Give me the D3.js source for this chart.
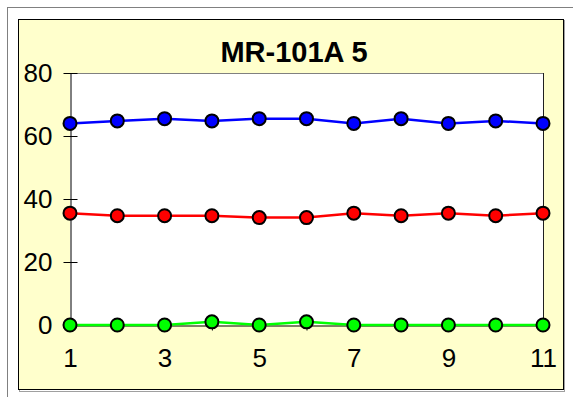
<!DOCTYPE html>
<html>
<head>
<meta charset="utf-8">
<script src="https://cdn.jsdelivr.net/npm/d3@7"></script>
<style>
  html, body { margin: 0; padding: 0; background: #fff; }
  svg { display: block; font-family: "Liberation Sans", Arial, sans-serif; }
</style>
</head>
<body>
<svg id="chart" width="573" height="397"></svg>
<script>
// Sample numbers along the x axis
const categories = [1, 2, 3, 4, 5, 6, 7, 8, 9, 10, 11];
// Three measured series
const blueValues  = [64, 64.8, 65.5, 64.8, 65.5, 65.5, 64, 65.5, 64, 64.8, 64];
const redValues   = [35.5, 34.7, 34.7, 34.7, 34.1, 34.1, 35.5, 34.7, 35.5, 34.7, 35.5];
const greenValues = [0, 0, 0, 1, 0, 1, 0, 0, 0, 0, 0];
const yTicks = [0, 20, 40, 60, 80];
const xTickLabels = [1, 3, 5, 7, 9, 11];
const title = "MR-101A 5";

const series = [
  { values: greenValues, color: "#00ff00" },
  { values: redValues,   color: "#ff0000" },
  { values: blueValues,  color: "#0000ff" }
];

const svg = d3.select("#chart");

// outer frame
svg.append("rect")
  .attr("x", 7.5).attr("y", 7.5).attr("width", 600).attr("height", 420)
  .attr("fill", "#fff").attr("stroke", "#808080").attr("stroke-width", 1);

// chart area with shadow
svg.append("rect")
  .attr("x", 19.5).attr("y", 20.5).attr("width", 545).attr("height", 371)
  .attr("fill", "none").attr("stroke", "#a0a0a0").attr("stroke-width", 1);
svg.append("rect")
  .attr("x", 18.5).attr("y", 19.5).attr("width", 545).attr("height", 370)
  .attr("fill", "#ffffcc").attr("stroke", "#000").attr("stroke-width", 1);

const plot = { left: 70, right: 543, top: 73, bottom: 325 };

const x = d3.scaleLinear().domain([1, 11]).range([plot.left, plot.right]);
const y = d3.scaleLinear().domain([0, 80]).range([plot.bottom, plot.top]);

// plot background
svg.append("rect")
  .attr("x", plot.left).attr("y", plot.top)
  .attr("width", plot.right - plot.left).attr("height", plot.bottom - plot.top)
  .attr("fill", "#fff");

// top and right frame of the plot
svg.append("line")
  .attr("x1", plot.left).attr("x2", plot.right)
  .attr("y1", plot.top + 0.5).attr("y2", plot.top + 0.5)
  .attr("stroke", "#808080").attr("stroke-width", 1.2);
svg.append("line")
  .attr("x1", plot.right + 0.5).attr("x2", plot.right + 0.5)
  .attr("y1", plot.top).attr("y2", plot.bottom)
  .attr("stroke", "#202020").attr("stroke-width", 1);

// y axis
const yAxis = d3.axisLeft(y).tickValues(yTicks).tickSizeInner(7).tickSizeOuter(0).tickPadding(11);
const gy = svg.append("g").attr("transform", `translate(${plot.left + 0.5},0)`).call(yAxis);
gy.select(".domain").attr("stroke", "#000");
gy.selectAll(".tick line").attr("x2", 7).attr("x1", -7).attr("stroke", "#000");
gy.selectAll(".tick text")
  .attr("font-size", 26).attr("fill", "#000")
  .attr("font-family", "'Liberation Sans', Arial, sans-serif");

// x axis
const xAxis = d3.axisBottom(x).tickValues(categories).tickSizeInner(5).tickSizeOuter(0)
  .tickFormat(d => xTickLabels.includes(d) ? d : "").tickPadding(18);
const gx = svg.append("g").attr("transform", `translate(0,${plot.bottom + 0.5})`).call(xAxis);
gx.select(".domain").attr("stroke", "#000");
gx.selectAll(".tick line").attr("stroke", "#000");
gx.selectAll(".tick text")
  .attr("font-size", 26).attr("fill", "#000")
  .attr("font-family", "'Liberation Sans', Arial, sans-serif");

// title
svg.append("text")
  .attr("x", 294).attr("y", 62)
  .attr("text-anchor", "middle")
  .attr("font-size", 29).attr("font-weight", "bold").attr("fill", "#000")
  .text(title);

// series lines and markers
const line = d3.line().x((d, i) => x(categories[i])).y(d => y(d));
series.forEach(s => {
  svg.append("path")
    .datum(s.values)
    .attr("d", line)
    .attr("fill", "none")
    .attr("stroke", s.color)
    .attr("stroke-width", 2.5);
});
series.forEach(s => {
  svg.append("g").selectAll("circle")
    .data(s.values)
    .join("circle")
    .attr("cx", (d, i) => x(categories[i]))
    .attr("cy", d => y(d))
    .attr("r", 6.5)
    .attr("fill", s.color)
    .attr("stroke", "#000")
    .attr("stroke-width", 2);
});
</script>
</body>
</html>
